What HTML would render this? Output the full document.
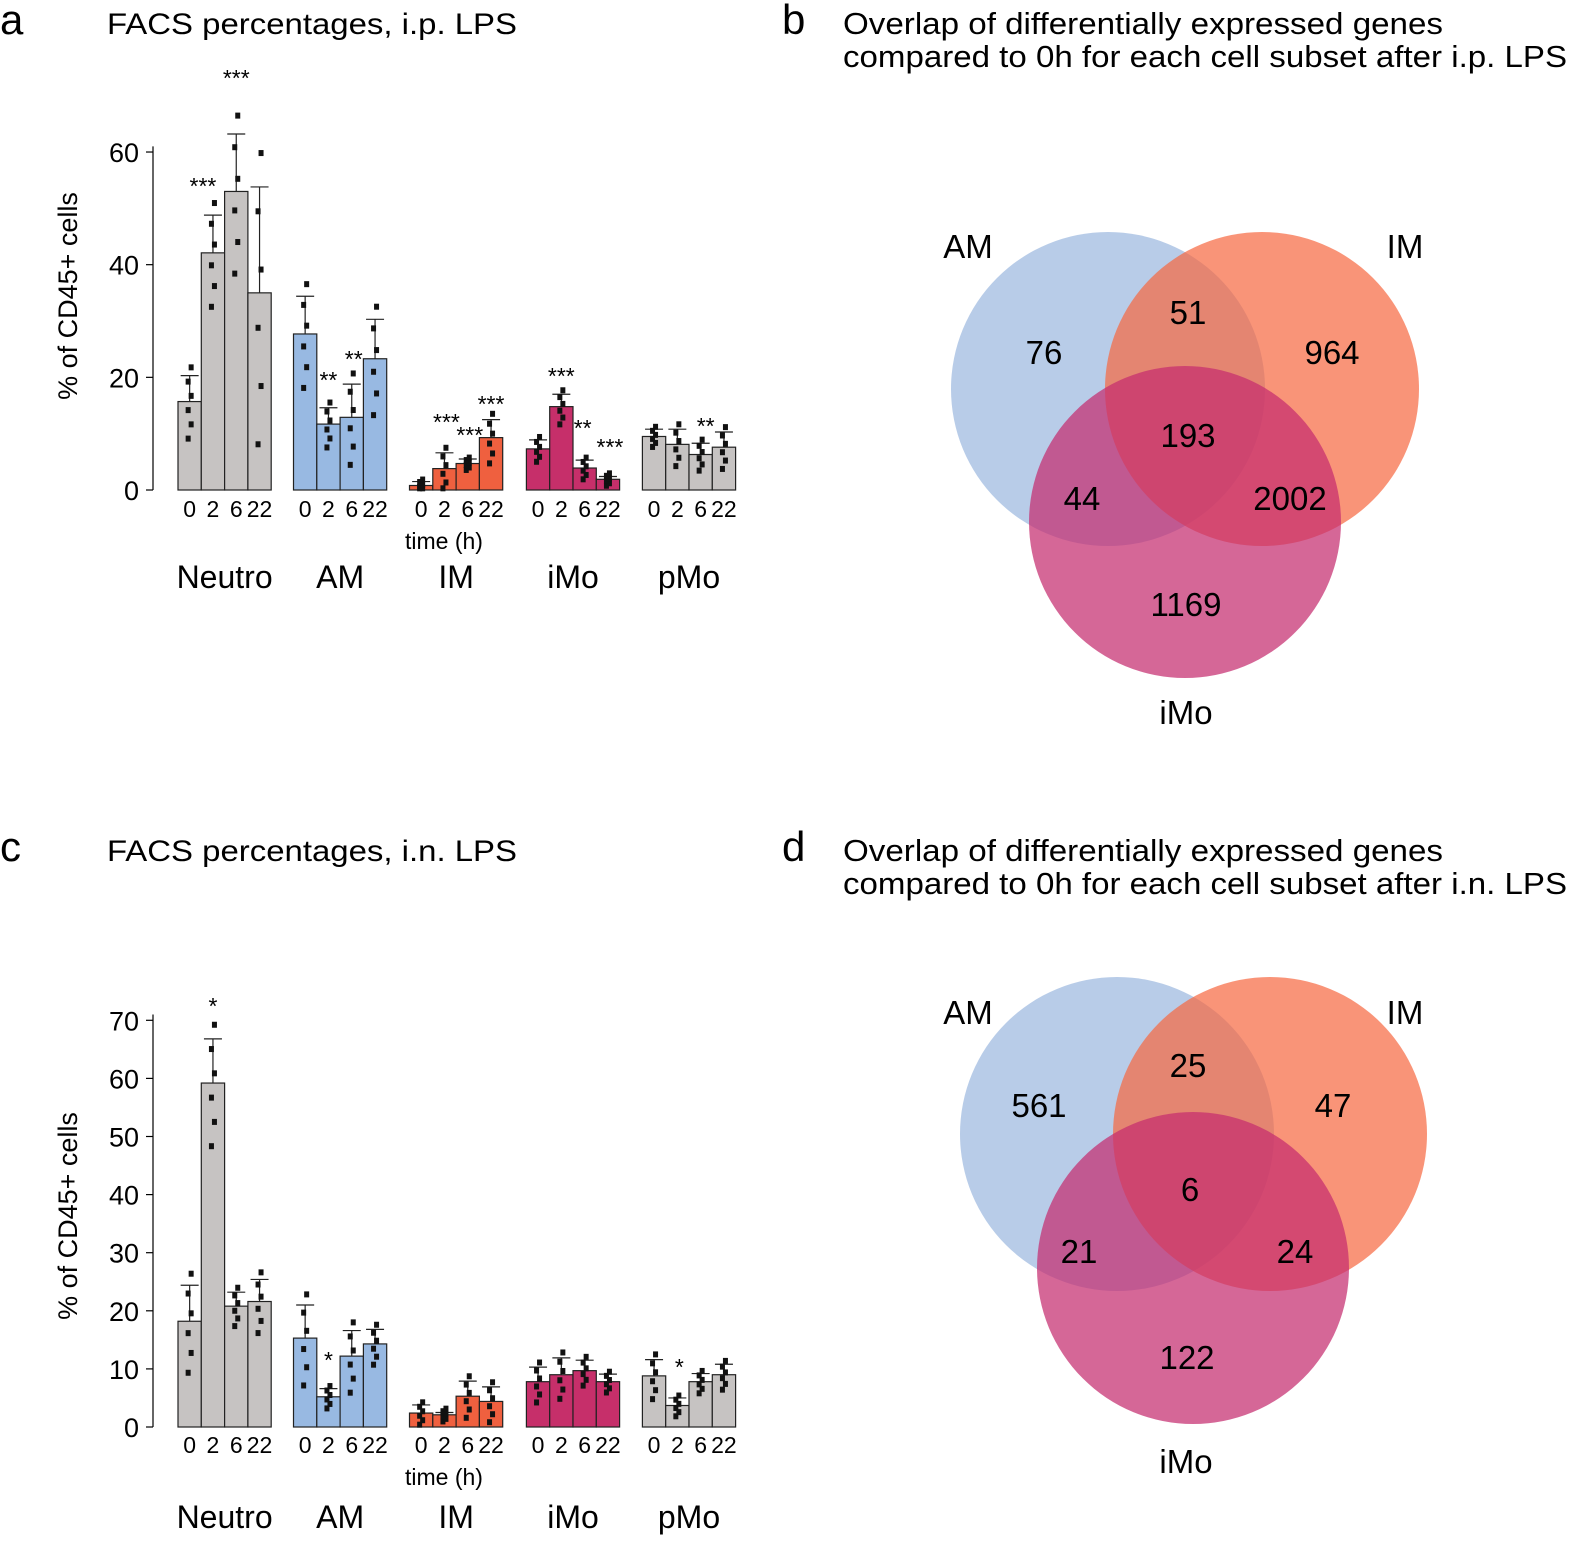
<!DOCTYPE html>
<html><head><meta charset="utf-8"><style>
html,body{margin:0;padding:0;background:#fff;}
svg{display:block;font-family:"Liberation Sans",sans-serif;}
</style></head><body>
<svg id="s" width="1577" height="1544" viewBox="0 0 1577 1544" xmlns="http://www.w3.org/2000/svg">
<text x="0" y="34" font-size="42">a</text>
<text x="107" y="34" font-size="30" textLength="410" lengthAdjust="spacingAndGlyphs">FACS percentages, i.p. LPS</text>
<text x="782" y="34" font-size="42">b</text>
<text x="843" y="34" font-size="31" textLength="600" lengthAdjust="spacingAndGlyphs">Overlap of differentially expressed genes</text>
<text x="843" y="67" font-size="31" textLength="724" lengthAdjust="spacingAndGlyphs">compared to 0h for each cell subset after i.p. LPS</text>
<text x="0" y="861" font-size="42">c</text>
<text x="107" y="861" font-size="30" textLength="410" lengthAdjust="spacingAndGlyphs">FACS percentages, i.n. LPS</text>
<text x="782" y="861" font-size="42">d</text>
<text x="843" y="861" font-size="31" textLength="600" lengthAdjust="spacingAndGlyphs">Overlap of differentially expressed genes</text>
<text x="843" y="894" font-size="31" textLength="724" lengthAdjust="spacingAndGlyphs">compared to 0h for each cell subset after i.n. LPS</text>

<g id="vb">
<circle cx="1108" cy="389" r="157" fill="#89aad9" fill-opacity="0.6"/>
<circle cx="1262" cy="389" r="157" fill="#f6663f" fill-opacity="0.7"/>
<circle cx="1185" cy="522" r="156" fill="#c52d6f" fill-opacity="0.72"/>
<g font-size="33" text-anchor="middle">
<text x="968" y="258">AM</text><text x="1405" y="258">IM</text><text x="1186" y="724">iMo</text>
<text x="1044" y="364">76</text><text x="1188" y="324">51</text><text x="1332" y="364">964</text>
<text x="1188" y="447">193</text><text x="1082" y="510">44</text><text x="1290" y="510">2002</text>
<text x="1186" y="616">1169</text>
</g></g>
<g id="vd">
<circle cx="1117" cy="1134" r="157" fill="#89aad9" fill-opacity="0.6"/>
<circle cx="1270" cy="1134" r="157" fill="#f6663f" fill-opacity="0.7"/>
<circle cx="1193" cy="1268" r="156" fill="#c52d6f" fill-opacity="0.72"/>
<g font-size="33" text-anchor="middle">
<text x="968" y="1024">AM</text><text x="1405" y="1024">IM</text><text x="1186" y="1473">iMo</text>
<text x="1039" y="1117">561</text><text x="1188" y="1077">25</text><text x="1333" y="1117">47</text>
<text x="1190" y="1201">6</text><text x="1079" y="1263">21</text><text x="1295" y="1263">24</text>
<text x="1187" y="1369">122</text>
</g></g>
</svg>
<script>
var s=document.getElementById('s'),NS='http://www.w3.org/2000/svg';
function el(t,a,txt){var e=document.createElementNS(NS,t);for(var k in a)e.setAttribute(k,a[k]);if(txt!=null)e.textContent=txt;s.appendChild(e);return e;}
var cols=['#c6c3c2','#98b9e2','#ef603f','#c62f6a','#c6c3c2'];
var gx=[178,293.5,409.5,526.4,642.4],bw=23.3;
var names=['Neutro','AM','IM','iMo','pMo'];
function panel(o){
  var y=function(v){return o.y0-v*o.k;};
  el('line',{x1:153,y1:o.y0,x2:153,y2:y(o.max),stroke:'#000','stroke-width':1.2});
  o.ticks.forEach(function(t){el('line',{x1:146,x2:153,y1:y(t),y2:y(t),stroke:'#000','stroke-width':1.2});
    el('text',{x:139,y:y(t)+10,'font-size':27,'text-anchor':'end'},t);});
  el('text',{x:0,y:0,'font-size':27,'text-anchor':'middle',transform:'translate(77,'+o.ylab+') rotate(-90)'},'% of CD45+ cells');
  for(var g=0;g<5;g++){
    for(var b=0;b<4;b++){
      var d=o.data[g][b],x=gx[g]+b*bw,cx=x+bw/2;
      el('rect',{x:x,y:y(d[0]),width:bw,height:d[0]*o.k,fill:cols[g],stroke:'#222','stroke-width':1.2});
      el('line',{x1:cx,x2:cx,y1:y(d[0]),y2:y(d[1]),stroke:'#222','stroke-width':1.2});
      el('line',{x1:cx-9,x2:cx+9,y1:y(d[1]),y2:y(d[1]),stroke:'#222','stroke-width':1.2});
      var sp=Math.max(d[1]-d[0],0.8);
      [-1.3,-0.8,-0.3,0.2,0.7,1.2].forEach(function(f,i){
        var v=d[0]+f*sp*1.1; if(v<0.3)v=0.3;
        el('rect',{x:cx-2.5+((i%2)?1.5:-1.5),y:y(v)-3,width:5,height:6,fill:'#111'});});
      el('text',{x:cx,y:o.ty,'font-size':23,'text-anchor':'middle'},['0','2','6','22'][b]);
      if(d[2])el('text',{x:cx+(d[4]||0),y:d[3]+2,'font-size':23,'text-anchor':'middle'},d[2]);
    }
    el('text',{x:gx[g]+2*bw,y:o.gy,'font-size':32,'text-anchor':'middle'},names[g]);
  }
  el('text',{x:444,y:o.th,'font-size':23,'text-anchor':'middle'},'time (h)');
}
panel({y0:490,k:5.633,max:61,ticks:[0,20,40,60],ylab:296,ty:517,th:549,gy:588,data:[
 [[15.7,20.3],[42.1,48.8,'***',192,-10],[53,63.2,'***',84],[35,53.8]],
 [[27.7,34.4],[11.7,14.6,'**',386],[12.9,18.8,'**',365,2],[23.3,30.3]],
 [[0.8,1.5],[3.8,6.6,'***',428,2],[4.7,5.5,'***',441,2],[9.3,12.5,'***',410]],
 [[7.3,8.9],[14.8,17,'***',382],[3.9,5.3,'**',434,-2],[1.9,2.4,'***',453,2]],
 [[9.5,10.8],[8.1,10.8],[6.3,8.3,'**',432,5],[7.6,10.3]]]});
panel({y0:1427,k:5.81,max:71,ticks:[0,10,20,30,40,50,60,70],ylab:1216,ty:1453,th:1485,gy:1528,data:[
 [[18.2,24.4],[59.2,66.8,'*',1012],[20.8,23.2],[21.6,25.4]],
 [[15.3,21],[5.2,6.6,'*',1366],[12.2,16.6],[14.3,16.8]],
 [[2.4,3.8],[2.1,2.5],[5.3,7.9],[4.4,6.9]],
 [[7.8,10.3],[9,11.9],[9.7,11.5],[7.8,9.1]],
 [[8.8,11.6],[3.7,5,'*',1373,2],[7.8,9.2],[9,10.8]]]});
</script>
</body></html>
